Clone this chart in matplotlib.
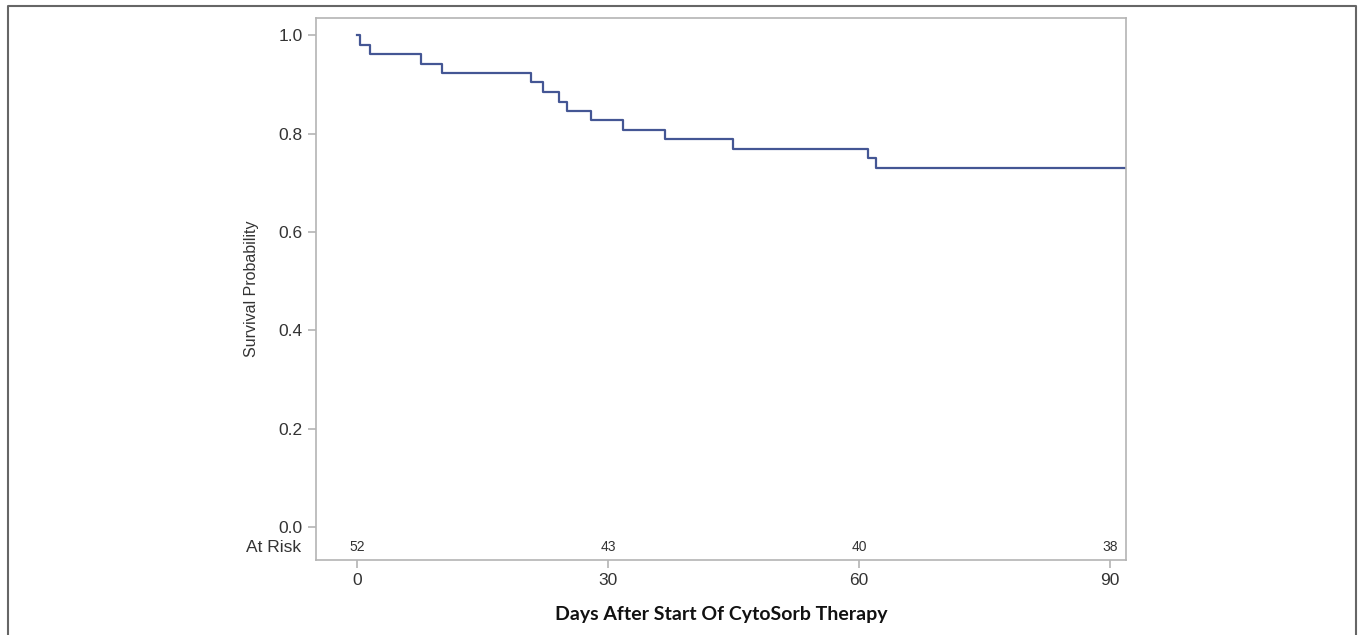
import matplotlib
matplotlib.use("Agg")
import matplotlib.pyplot as plt
from matplotlib.lines import Line2D

# Kaplan-Meier readings from the figure
event_days = [0.4, 1.5, 7.7, 10.1, 20.8, 22.2, 24.1, 25.1, 28.0, 31.8, 36.8, 44.9, 61.1, 62.0]
survival = [0.981, 0.962, 0.942, 0.923, 0.904, 0.885, 0.865, 0.846, 0.827, 0.808, 0.788, 0.769, 0.750, 0.731]
last_day = 92

risk_days = [0, 30, 60, 90]
at_risk = [52, 43, 40, 38]

y_ticks = [0.0, 0.2, 0.4, 0.6, 0.8, 1.0]
x_ticks = [0, 30, 60, 90]

LINE_COLOR = "#445694"
AXIS_GREY = "#b4b4b4"
TEXT = "#333333"

plt.rcParams["font.family"] = ["Liberation Sans", "DejaVu Sans"]

fig = plt.figure(figsize=(13.6, 6.35), dpi=100)
ax = fig.add_axes([316 / 1360, 1 - 560 / 635, (1126 - 316) / 1360, (560 - 18) / 635])

xs = [0] + event_days + [last_day]
ys = [1.0] + survival + [survival[-1]]
ax.step(xs, ys, where="post", color=LINE_COLOR, lw=1.6)

ax.set_xlim(-4.9, 91.9)
ax.set_ylim(-0.067, 1.035)
ax.set_xticks(x_ticks)
ax.set_yticks(y_ticks)
ax.set_yticklabels([f"{v:.1f}" for v in y_ticks])

for s in ax.spines.values():
    s.set_color(AXIS_GREY)
    s.set_linewidth(1.2)
ax.tick_params(colors=AXIS_GREY, labelcolor=TEXT, labelsize=12.5, length=6, width=1.2)

# numbers at risk inside the plot area
for d, n in zip(risk_days, at_risk):
    ax.text(d, -0.041, str(n), ha="center", va="center", fontsize=10, color=TEXT)
ax.text(-0.018, -0.041, "At Risk", transform=ax.get_yaxis_transform(), ha="right",
        va="center", fontsize=12.5, color=TEXT)

ax.set_ylabel("Survival Probability", fontsize=11.5, color=TEXT, labelpad=14,
              fontstretch="condensed")
ax.set_xlabel("Days After Start Of CytoSorb Therapy", fontsize=14, fontweight="bold",
              family=["Lato", "DejaVu Sans"], color="#111111", labelpad=13)

# frame around the figure (open at the bottom)
fx = [8 / 1360, 8 / 1360, 1356 / 1360, 1356 / 1360]
fy = [0.0, 1 - 6 / 635, 1 - 6 / 635, 0.0]
fig.add_artist(Line2D(fx, fy, transform=fig.transFigure, color="#666666", lw=1.5))

fig.savefig("out.png", dpi=100)
